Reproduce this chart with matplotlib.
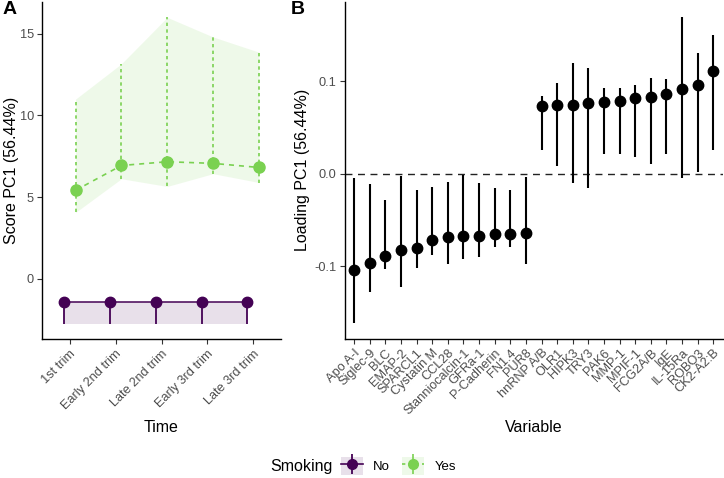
import numpy as np
import matplotlib
matplotlib.use("Agg")
import matplotlib.pyplot as plt
from matplotlib.lines import Line2D
from matplotlib.patches import Patch
from matplotlib.legend_handler import HandlerTuple

plt.rcParams["font.family"] = ["Liberation Sans", "DejaVu Sans"]

# ---------------- data: panel A ----------------
times = ["1st trim", "Early 2nd trim", "Late 2nd trim", "Early 3rd trim", "Late 3rd trim"]

no_mean = [-1.42, -1.42, -1.42, -1.42, -1.42]
no_low = [-2.75, -2.75, -2.75, -2.75, -2.75]
no_high = [-1.42, -1.42, -1.42, -1.42, -1.42]

yes_mean = [5.42, 6.94, 7.17, 7.07, 6.82]
yes_low = [4.07, 6.13, 5.66, 6.44, 5.90]
yes_high = [11.0, 13.16, 16.0, 14.8, 13.87]

# ---------------- data: panel B ----------------
variables = ["Apo A-I", "Siglec-9", "BLC", "EMAP-2", "SPARCL1", "Cystatin M", "CCL28",
             "Stanniocalcin-1", "GFRa-1", "P-Cadherin", "FN1.4", "PUR8", "hnRNP A/B",
             "OLR1", "HIPK3", "TRY3", "PAK6", "MMP-1", "MPIF-1", "FCG2A/B", "IgE",
             "IL-15Ra", "ROBO3", "CK2-A2:B"]
load_mean = [-0.104, -0.097, -0.089, -0.083, -0.081, -0.072, -0.069, -0.067, -0.067,
             -0.065, -0.065, -0.064, 0.073, 0.074, 0.0745, 0.076, 0.077, 0.079, 0.082,
             0.083, 0.086, 0.092, 0.096, 0.111]
load_low = [-0.162, -0.128, -0.103, -0.123, -0.102, -0.088, -0.098, -0.092, -0.090,
            -0.079, -0.079, -0.098, 0.026, 0.008, -0.010, -0.016, 0.021, 0.021, 0.018,
            0.010, 0.021, -0.005, 0.002, 0.025]
load_high = [-0.005, -0.011, -0.029, -0.003, -0.018, -0.014, -0.009, -0.001, -0.010,
             -0.016, -0.018, -0.004, 0.084, 0.098, 0.120, 0.114, 0.093, 0.093, 0.096,
             0.103, 0.102, 0.169, 0.130, 0.150]

PURPLE = "#440154"
GREEN = "#7AD151"
TICK_COL = "#4D4D4D"
W, H = 724, 478


def style_axes(ax):
    for s in ["top", "right"]:
        ax.spines[s].set_visible(False)
    for s in ["left", "bottom"]:
        ax.spines[s].set_linewidth(1.0)
        ax.spines[s].set_color("black")
    ax.tick_params(axis="both", length=3.5, width=0.8, color="#333333",
                   labelcolor=TICK_COL, labelsize=9.2, pad=2.5)


def expand(lo, hi, f=0.05):
    d = (hi - lo) * f
    return lo - d, hi + d


fig = plt.figure(figsize=(W / 100, H / 100), dpi=100)
axA = fig.add_axes([42.3 / W, 1 - 339.3 / H, (280.7 - 42.3) / W, (339.3 - 2) / H])
axB = fig.add_axes([344.7 / W, 1 - 338.7 / H, (722.7 - 344.7) / W, (338.7 - 2) / H])

# ---------------- panel A ----------------
x = np.arange(1, len(times) + 1)
dodge = 0.125
xn = x - dodge
xy = x + dodge

axA.fill_between(xn, no_low, no_high, color=PURPLE, alpha=0.12, lw=0)
axA.fill_between(xy, yes_low, yes_high, color=GREEN, alpha=0.12, lw=0)

axA.plot(xn, no_mean, color=PURPLE, lw=1.1)
axA.vlines(xn, no_low, no_high, color=PURPLE, lw=1.3)
axA.plot(xn, no_mean, "o", color=PURPLE, ms=7.5)

axA.plot(xy, yes_mean, color=GREEN, lw=1.2, ls=(0, (3, 3)))
axA.vlines(xy, yes_low, yes_high, color=GREEN, lw=1.2, linestyles=[(0, (2, 2))])
axA.plot(xy, yes_mean, "o", color=GREEN, ms=8)

axA.set_xlim(0.4, len(times) + 0.6)
axA.set_ylim(*expand(min(no_low + yes_low), max(no_high + yes_high)))
axA.set_xticks(x)
axA.set_xticklabels(times, rotation=45, ha="right", rotation_mode="anchor")
axA.set_yticks([0, 5, 10, 15])
style_axes(axA)

# ---------------- panel B ----------------
xb = np.arange(1, len(variables) + 1)
axB.axhline(0, color="#222222", lw=1.0, ls=(0, (5, 4)))
axB.vlines(xb, load_low, load_high, color="black", lw=1.5)
axB.plot(xb, load_mean, "o", color="black", ms=7.5)
axB.set_xlim(0.4, len(variables) + 0.6)
axB.set_ylim(*expand(min(load_low), max(load_high)))
axB.set_xticks(xb)
axB.set_xticklabels(variables, rotation=45, ha="right", rotation_mode="anchor")
axB.set_yticks([-0.1, 0.0, 0.1])
axB.set_yticklabels(["-0.1", "0.0", "0.1"])
style_axes(axB)

# axis titles placed as in the reference
fig.text(161.5 / W, 1 - 428 / H, "Time", fontsize=11.5, ha="center", va="center")
fig.text(533.7 / W, 1 - 428 / H, "Variable", fontsize=11.5, ha="center", va="center")
fig.text(12 / W, 1 - 170 / H, "Score PC1 (56.44%)", fontsize=11.5, rotation=90,
         ha="center", va="center")
fig.text(303 / W, 1 - 170 / H, "Loading PC1 (56.44%)", fontsize=11.5, rotation=90,
         ha="center", va="center")

# panel tags
fig.text(0.004, 0.997, "A", fontsize=14, fontweight="bold", va="top", ha="left")
fig.text(0.402, 0.997, "B", fontsize=14, fontweight="bold", va="top", ha="left")

# ---------------- legend ----------------
fig.text(301 / W, 1 - 466 / H, "Smoking", fontsize=11.5, ha="center", va="center")
h_no = (Patch(facecolor=PURPLE, alpha=0.12, lw=0),
        Line2D([], [], color=PURPLE, lw=1.2, marker="o", ms=7),
        Line2D([], [], color=PURPLE, lw=0, marker="|", ms=15, mew=1.3))
h_yes = (Patch(facecolor=GREEN, alpha=0.12, lw=0),
         Line2D([], [], color=GREEN, lw=1.2, ls=(0, (2, 2)), marker="o", ms=7),
         Line2D([], [], color=GREEN, lw=0, marker="|", ls="none", ms=15, mew=1.2))
leg = fig.legend([h_no, h_yes], ["No", "Yes"],
                 handler_map={tuple: HandlerTuple(ndivide=1, pad=0)},
                 loc="center left", bbox_to_anchor=(341 / W, 1 - 466 / H),
                 ncol=2, frameon=False, fontsize=9.5, numpoints=1,
                 handlelength=1.65, handleheight=1.65, columnspacing=0.9,
                 handletextpad=0.8, borderpad=0, borderaxespad=0)

fig.savefig("out.png", dpi=100)
